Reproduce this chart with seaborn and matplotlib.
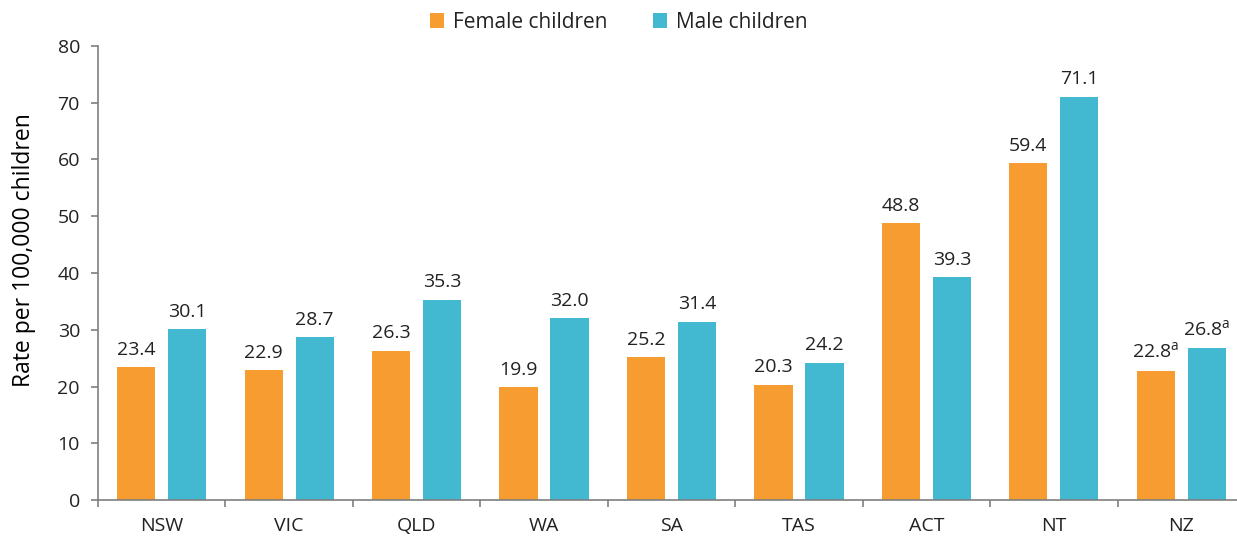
import matplotlib
matplotlib.use("Agg")
import matplotlib.pyplot as plt
import seaborn as sns
import pandas as pd
import numpy as np

categories = ["NSW", "VIC", "QLD", "WA", "SA", "TAS", "ACT", "NT", "NZ"]
female = [23.4, 22.9, 26.3, 19.9, 25.2, 20.3, 48.8, 59.4, 22.8]
male = [30.1, 28.7, 35.3, 32.0, 31.4, 24.2, 39.3, 71.1, 26.8]
female_labels = ["23.4", "22.9", "26.3", "19.9", "25.2", "20.3", "48.8", "59.4", "22.8$^{\\mathrm{a}}$"]
male_labels = ["30.1", "28.7", "35.3", "32.0", "31.4", "24.2", "39.3", "71.1", "26.8$^{\\mathrm{a}}$"]
series = ["Female children", "Male children"]
colors = ["#F79C31", "#42B9D1"]
yticks = [0, 10, 20, 30, 40, 50, 60, 70, 80]

sns.set_theme(style="white")
plt.rcParams["font.family"] = ["Open Sans", "DejaVu Sans"]
plt.rcParams["mathtext.fontset"] = "custom"
plt.rcParams["mathtext.rm"] = "Open Sans"

df = pd.DataFrame({
    "State": categories * 2,
    "Rate": female + male,
    "Sex": [series[0]] * len(categories) + [series[1]] * len(categories),
})

fig = plt.figure(figsize=(12.37, 5.39), dpi=100)
ax = fig.add_axes([98 / 1237, 39 / 539, (1245 - 98) / 1237, 454 / 539])

sns.barplot(data=df, x="State", y="Rate", hue="Sex", palette=colors,
            width=0.8, gap=0.25, ax=ax, saturation=1, edgecolor="none")

for cont, labs in zip(ax.containers, [female_labels, male_labels]):
    ax.bar_label(cont, labels=labs, padding=6, fontsize=14, color="#222222")

ax.set_ylim(0, 80)
ax.set_yticks(yticks)
ax.set_xlim(-0.5, len(categories) - 0.5)
ax.set_xlabel("")
ax.set_ylabel("Rate per 100,000 children", fontsize=16.5, color="#000000")
ax.yaxis.set_label_coords(-62 / 1147, (500 - 250) / 454)

for s in ["top", "right"]:
    ax.spines[s].set_visible(False)
for s in ["left", "bottom"]:
    ax.spines[s].set_color("#7f7f7f")
    ax.spines[s].set_linewidth(1.2)

ax.set_xticks(np.arange(len(categories)))
ax.set_xticklabels(categories)
ax.set_xticks(np.arange(len(categories) + 1) - 0.5, minor=True)
ax.tick_params(axis="x", which="major", length=0, pad=12, labelsize=14, labelcolor="#222222")
ax.tick_params(axis="x", which="minor", length=5, width=1.2, color="#7f7f7f", direction="out", bottom=True)
ax.tick_params(axis="y", which="major", length=5, width=1.2, color="#7f7f7f", direction="out", left=True,
               labelsize=14, labelcolor="#222222", pad=8)

# legend centered on the figure
leg = fig.legend(*ax.get_legend_handles_labels(), loc="center", bbox_to_anchor=(0.5, 1 - 22 / 539),
                 ncol=2, frameon=False, fontsize=15, handlelength=0.7, handleheight=0.7,
                 columnspacing=2.2, handletextpad=0.4)
ax.get_legend().remove()
for t in leg.get_texts():
    t.set_color("#222222")

fig.savefig("out.png", dpi=100)
